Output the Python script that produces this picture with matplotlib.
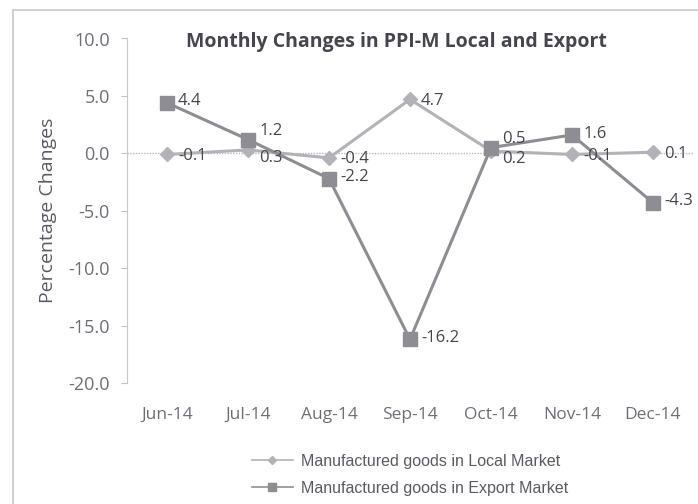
import matplotlib
matplotlib.use("Agg")
import matplotlib.pyplot as plt
from matplotlib.lines import Line2D
from matplotlib.patches import Rectangle

months = ["Jun-14", "Jul-14", "Aug-14", "Sep-14", "Oct-14", "Nov-14", "Dec-14"]
local_vals = [-0.1, 0.3, -0.4, 4.7, 0.2, -0.1, 0.1]
export_vals = [4.4, 1.2, -2.2, -16.2, 0.5, 1.6, -4.3]
local_name = "Manufactured goods in Local Market"
export_name = "Manufactured goods in Export Market"
yticks = [10.0, 5.0, 0.0, -5.0, -10.0, -15.0, -20.0]

plt.rcParams['font.family'] = ['Open Sans', 'DejaVu Sans']

fig = plt.figure(figsize=(6.98, 5.04), dpi=100)
fig.patches.append(Rectangle((13/698, -0.01), 1.0, 1 - 10/504 + 0.01, transform=fig.transFigure,
                             fill=False, edgecolor="#c8c8cc", linewidth=1.2))

ax = fig.add_axes([126.5/698, 1 - 383/504, 567/698, (383 - 38.5)/504])
x = list(range(len(months)))

local_col = "#b2b2b8"
export_col = "#8d8d93"
ax.plot(x, local_vals, color=local_col, linewidth=2.2, marker="D", markersize=7,
        markerfacecolor=local_col, markeredgecolor=local_col, zorder=3)
ax.plot(x, export_vals, color=export_col, linewidth=2.2, marker="s", markersize=10,
        markerfacecolor=export_col, markeredgecolor=export_col, zorder=4)

lab_col = "#45454d"
for xi, lv, ev in zip(x, local_vals, export_vals):
    close = abs(lv - ev) < 1.5
    sep = 5 if close else 0
    l_dy = (-1 - sep) if lv <= ev else (-1 + sep)
    e_dy = (1 + sep) if ev >= lv else (1 - sep)
    ax.annotate(f"{lv:.1f}", (xi, lv), xytext=(8, l_dy), textcoords="offset points",
                ha="left", va="center", fontsize=12, color=lab_col, zorder=5)
    ax.annotate(f"{ev:.1f}", (xi, ev), xytext=(8, e_dy), textcoords="offset points",
                ha="left", va="center", fontsize=12, color=lab_col, zorder=5)

ax.set_xlim(-0.5, 6.5)
ax.set_ylim(-20, 10)
ax.set_yticks(yticks)
ax.set_yticklabels([f"{t:.1f}" for t in yticks], fontsize=13, color="#6e6e76")
ax.set_xticks(x)
ax.set_xticklabels(months, fontsize=12.5, color="#6e6e76")
ax.tick_params(axis="y", length=4, color="#c0c0c4", pad=8)
ax.tick_params(axis="x", length=0, pad=17)
for s in ["top", "right", "bottom"]:
    ax.spines[s].set_visible(False)
ax.spines["left"].set_color("#c8c8cc")
ax.axhline(0, color="#b8b8bc", linewidth=1.0, linestyle=(0, (1, 1)), zorder=1)

ax.set_ylabel("Percentage Changes", fontsize=14, color="#5a5a62", labelpad=8)
fig.text(396/698, 1 - 42/504, "Monthly Changes in PPI-M Local and Export", ha="center", va="center",
         fontsize=14, fontweight="bold", color="#45454d")

handles = [Line2D([], [], color=local_col, marker="D", markersize=4, linewidth=1.2),
           Line2D([], [], color=export_col, marker="s", markersize=6, linewidth=1.2)]
leg = fig.legend(handles, [local_name, export_name], loc="center", bbox_to_anchor=(410/698, 1 - 475/504),
                 ncol=1, frameon=False, handlelength=2.6, labelspacing=0.75, handletextpad=0.5,
                 prop={'family': ['Liberation Sans Narrow', 'Liberation Sans'], 'size': 11.5})
for t in leg.get_texts():
    t.set_color("#5a5a62")

fig.savefig("out.png", dpi=100)
